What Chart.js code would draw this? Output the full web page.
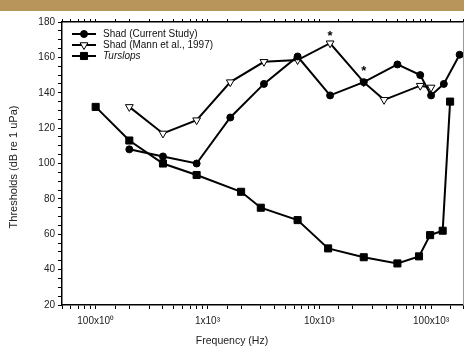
<!DOCTYPE html>
<html>
<head>
<meta charset="utf-8">
<script src="https://cdn.jsdelivr.net/npm/chart.js@4"></script>
<style>
  html, body { margin: 0; padding: 0; background: #fff; }
  #wrap { position: relative; width: 464px; height: 352px; }
  #band { position: absolute; left: 0; top: 0; width: 464px; height: 11px; background: #b8965b; }
</style>
</head>
<body>
<div id="wrap">
  <canvas id="myChart" width="464" height="352"></canvas>
  <div id="band"></div>
</div>
<script>
// frequencies in Hz, thresholds in dB re 1 uPa
const shadFreq = [200, 400, 800, 1600, 3200, 6400, 12500, 25000, 50000, 80000, 100000, 130000, 180000];
const shadThr = [108, 104, 100, 126, 145, 160.5, 138.5, 146, 156, 150, 138.5, 145, 161.5];

const mannFreq = [200, 400, 800, 1600, 3200, 6400, 12500, 25000, 38000, 80000, 100000];
const mannThr = [132, 117, 124.5, 146, 157.5, 158.5, 168, 146, 136, 144, 143];

const tursFreq = [100, 200, 400, 800, 2000, 3000, 6400, 12000, 25000, 50000, 78000, 98000, 127000, 148000];
const tursThr = [132, 113, 100, 93.5, 84, 75, 68, 52, 47, 43.5, 47.5, 59.5, 62, 135];

const xTickLabels = { 100: "100x10⁰", 1000: "1x10³", 10000: "10x10³", 100000: "100x10³" };
const legendLabels = ["Shad (Current Study)", "Shad (Mann et al., 1997)", "Turslops"];
const xTitle = "Frequency (Hz)";
const yTitle = "Thresholds (dB re 1 uPa)";

// asterisks over the Mann et al. points
const starFreq = [12500, 25000];
const starThr = [172, 152];

const fontFamily = "'Liberation Sans', Arial, sans-serif";

function pairs(xs, ys) {
  return xs.map((x, i) => ({ x: x, y: ys[i] }));
}

const legendPlugin = {
  id: "insideLegend",
  afterDraw(chart) {
    const ctx = chart.ctx;
    const a = chart.chartArea;
    const styles = [
      { style: "circle", fill: "#000", r: 3.5, rot: 0 },
      { style: "triangle", fill: "#fff", r: 4.5, rot: 180 },
      { style: "rect", fill: "#000", r: 5, rot: 0 },
    ];
    ctx.save();
    // right frame line
    ctx.strokeStyle = "#999";
    ctx.lineWidth = 1;
    ctx.beginPath();
    ctx.moveTo(a.right + 0.5, a.top);
    ctx.lineTo(a.right + 0.5, a.bottom);
    ctx.stroke();

    legendLabels.forEach((txt, i) => {
      const y = a.top + 12 + i * 11;
      const x0 = a.left + 10;
      ctx.strokeStyle = "#000";
      ctx.lineWidth = 2;
      ctx.beginPath();
      ctx.moveTo(x0, y);
      ctx.lineTo(x0 + 24, y);
      ctx.stroke();
      ctx.fillStyle = styles[i].fill;
      ctx.lineWidth = 1;
      Chart.helpers.drawPoint(ctx, {
        pointStyle: styles[i].style,
        radius: styles[i].r,
        rotation: styles[i].rot,
        borderWidth: 1,
      }, x0 + 12, y);
      ctx.fillStyle = "#111";
      ctx.font = (i === 2 ? "italic " : "") + "10px " + fontFamily;
      ctx.textBaseline = "middle";
      ctx.textAlign = "left";
      ctx.fillText(txt, x0 + 31, y);
    });

    // axis titles (the scanned figure has them off-centre)
    ctx.fillStyle = "#222";
    ctx.textAlign = "center";
    ctx.textBaseline = "middle";
    ctx.font = "10.5px " + fontFamily;
    ctx.fillText(xTitle, 232, 341);
    ctx.translate(14, 167);
    ctx.rotate(-Math.PI / 2);
    ctx.font = "11px " + fontFamily;
    ctx.fillText(yTitle, 0, 0);
    ctx.restore();
  },
};

const starPlugin = {
  id: "stars",
  afterDatasetsDraw(chart) {
    const ctx = chart.ctx;
    const xs = chart.scales.x;
    const ys = chart.scales.y;
    ctx.save();
    ctx.fillStyle = "#000";
    ctx.font = "bold 13px " + fontFamily;
    ctx.textAlign = "center";
    ctx.textBaseline = "middle";
    starFreq.forEach((f, i) => {
      ctx.fillText("*", xs.getPixelForValue(f), ys.getPixelForValue(starThr[i]));
    });
    ctx.restore();
  },
};

const frameColor = "#000";

const data = {
  datasets: [
    {
      label: legendLabels[0],
      data: pairs(shadFreq, shadThr),
      borderColor: "#000",
      backgroundColor: "#000",
      borderWidth: 2,
      pointStyle: "circle",
      pointRadius: 3.5,
      pointBorderWidth: 1,
      clip: 6,
    },
    {
      label: legendLabels[1],
      data: pairs(mannFreq, mannThr),
      borderColor: "#000",
      backgroundColor: "#fff",
      borderWidth: 2,
      pointStyle: "triangle",
      pointRotation: 180,
      pointRadius: 4.5,
      pointBorderWidth: 1,
      clip: 6,
    },
    {
      label: legendLabels[2],
      data: pairs(tursFreq, tursThr),
      borderColor: "#000",
      backgroundColor: "#000",
      borderWidth: 2,
      pointStyle: "rect",
      pointRadius: 5,
      pointBorderWidth: 1,
      clip: 6,
    },
  ],
};

const config = {
  type: "line",
  data: data,
  options: {
    responsive: false,
    animation: false,
    layout: { autoPadding: false, padding: { right: 1 } },
    plugins: {
      legend: { display: false },
      tooltip: { enabled: false },
    },
    scales: {
      x: {
        type: "logarithmic",
        position: "bottom",
        min: 50,
        max: 193000,
        border: { color: frameColor, width: 1.5 },
        grid: { drawOnChartArea: false, tickLength: 4, color: frameColor },
        ticks: {
          autoSkip: false,
          maxRotation: 0,
          padding: 6,
          color: "#222",
          font: { family: fontFamily, size: 10 },
          callback: (v) => xTickLabels[Math.round(v)] || "",
        },
        afterFit: (s) => { s.height = 47; s.paddingRight = 0; },
      },
      xTop: {
        type: "logarithmic",
        position: "top",
        min: 50,
        max: 193000,
        border: { color: frameColor, width: 1.5 },
        grid: { drawOnChartArea: false, tickLength: 3, color: frameColor },
        ticks: { autoSkip: false, callback: () => "" },
        afterFit: (s) => { s.height = 22; s.paddingRight = 0; },
      },
      y: {
        type: "linear",
        min: 20,
        max: 180,
        border: { color: frameColor, width: 1.5 },
        grid: { drawOnChartArea: false, tickLength: 4, color: frameColor },
        ticks: {
          stepSize: 5,
          autoSkip: false,
          padding: 3,
          color: "#222",
          font: { family: fontFamily, size: 10 },
          callback: (v) => (v % 20 === 0 ? v : ""),
        },
        afterFit: (s) => { s.width = 62; },
      },
    },
  },
  plugins: [legendPlugin, starPlugin],
};

const ctx = document.getElementById("myChart").getContext("2d");
const myChart = new Chart(ctx, config);
</script>
</body>
</html>
